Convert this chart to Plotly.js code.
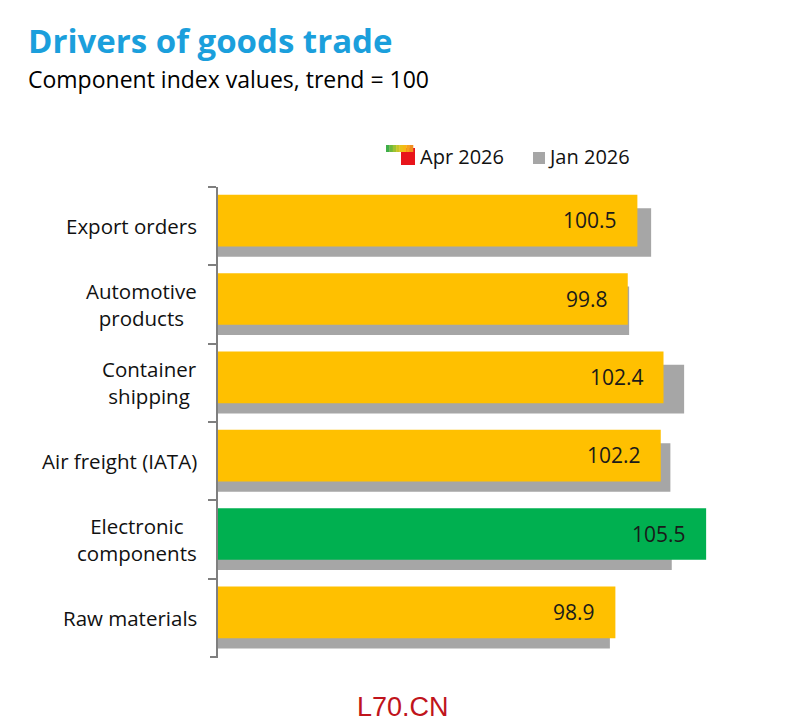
<!DOCTYPE html>
<html><head><meta charset="utf-8">
<script src="https://cdn.plot.ly/plotly-3.0.1.min.js"></script>
<style>html,body{margin:0;padding:0;background:#fff}#chart{width:805px;height:728px}</style>
</head><body><div id="chart"></div>
<script>
const categories = ["Export orders", "Automotive<br>products", "Container<br>shipping", "Air freight (IATA)", "Electronic<br>components", "Raw materials"];
const apr2026 = [100.5, 99.8, 102.4, 102.2, 105.5, 98.9];
const jan2026 = [101.5, 99.9, 103.9, 102.9, 103.0, 98.5];
const aprColors = ["#FFC000", "#FFC000", "#FFC000", "#FFC000", "#00B050", "#FFC000"];
const seriesNames = ["Apr 2026", "Jan 2026"];
const titleText = "Drivers of goods trade";
const subtitleText = "Component index values, trend = 100";
const watermark = "L70.CN";

const FONT = "Open Sans, Lato, sans-serif";
const GRAY = "#A6A6A6";

const traces = [
  {type: "bar", orientation: "h", name: seriesNames[1], y: categories, x: jan2026,
   marker: {color: GRAY}, offset: -0.23, width: 0.62, hoverinfo: "x+name"},
  {type: "bar", orientation: "h", name: seriesNames[0], y: categories, x: apr2026,
   marker: {color: aprColors}, offset: -0.40, width: 0.66, hoverinfo: "x+name"}
];

const annotations = [];
categories.forEach((c, i) => {
  annotations.push({xref: "paper", yref: "y", x: 0, y: c, xanchor: "right", yanchor: "middle",
    xshift: -19, text: c, align: "center", showarrow: false,
    font: {family: FONT, size: 20.5, color: "#111"}});
  annotations.push({xref: "x", yref: "y", x: apr2026[i], y: c, xanchor: "right", yanchor: "middle",
    xshift: -18, yshift: 6, text: apr2026[i].toFixed(1), showarrow: false,
    font: {family: FONT, size: 21, color: "#1a1a1a"}});
});
// legend texts
annotations.push({xref: "paper", yref: "paper", x: 0, y: 1, xshift: 200, yshift: 31, xanchor: "left", yanchor: "middle",
  text: seriesNames[0], showarrow: false, font: {family: FONT, size: 20, color: "#111"}});
annotations.push({xref: "paper", yref: "paper", x: 0, y: 1, xshift: 328, yshift: 31, xanchor: "left", yanchor: "middle",
  text: seriesNames[1], showarrow: false, font: {family: FONT, size: 20, color: "#111"}});
// subtitle
annotations.push({xref: "paper", yref: "paper", x: 0, y: 1, xshift: -192, yshift: 108, xanchor: "left", yanchor: "middle",
  text: subtitleText, showarrow: false, font: {family: FONT, size: 23, color: "#000"}});
// watermark
annotations.push({xref: "paper", yref: "paper", x: 0.5, y: 0, xshift: -90, yshift: -50, xanchor: "center", yanchor: "middle",
  text: watermark, showarrow: false, font: {family: "Liberation Sans, Arial, sans-serif", size: 27, color: "#C0141C"}});

const shapes = [];
function pxRect(x0, y0, x1, y1, color) {
  shapes.push({type: "rect", xref: "paper", yref: "paper", xsizemode: "pixel", ysizemode: "pixel",
    xanchor: 0, yanchor: 1, x0: x0, x1: x1, y0: y0, y1: y1, line: {width: 0}, fillcolor: color, layer: "above"});
}
// Apr icon: red square + green->yellow gradient strip (pixel offsets from plot top-left)
pxRect(401 - 218, 187 - 148, 415 - 218, 187 - 165, "#E8141B");
const grad = ["#3FAE49", "#6DB83E", "#9CC232", "#C7C526", "#E9C21A", "#F7B813", "#F7A31A", "#F08E20"];
grad.forEach((col, k) => {
  const w = 27 / grad.length;
  pxRect(386 - 218 + k * w, 187 - 145, 386 - 218 + (k + 1) * w + 0.3, 187 - 152, col);
});
pxRect(533 - 218, 187 - 152, 545 - 218, 187 - 164, GRAY);
// closing tick at the bottom boundary of the category axis
shapes.push({type: "line", xref: "paper", yref: "paper", xsizemode: "pixel", xanchor: 0,
  x0: -8, x1: 0, y0: 0, y1: 0, line: {color: "#7F7F7F", width: 2}});

const layout = {
  width: 805, height: 728,
  margin: {l: 218, r: 37, t: 187, b: 71},
  paper_bgcolor: "#fff", plot_bgcolor: "#fff",
  barmode: "overlay",
  showlegend: false,
  title: {text: "<b>" + titleText + "</b>", x: 28 / 805, xref: "container", xanchor: "left",
    y: 1 - 41 / 728, yref: "container", yanchor: "middle",
    font: {family: FONT, size: 33, color: "#1B9FDC"}},
  xaxis: {range: [70, 110], visible: false, showgrid: false, zeroline: false, fixedrange: true},
  yaxis: {type: "category", range: [5.5, -0.5], showticklabels: false, ticks: "outside", tickson: "boundaries",
    ticklen: 8, tickwidth: 2, tickcolor: "#7F7F7F", showline: true, linecolor: "#7F7F7F", linewidth: 2,
    showgrid: false, zeroline: false, fixedrange: true},
  annotations: annotations,
  shapes: shapes
};
Plotly.newPlot("chart", traces, layout, {displayModeBar: false, staticPlot: true});
</script>
</body></html>
